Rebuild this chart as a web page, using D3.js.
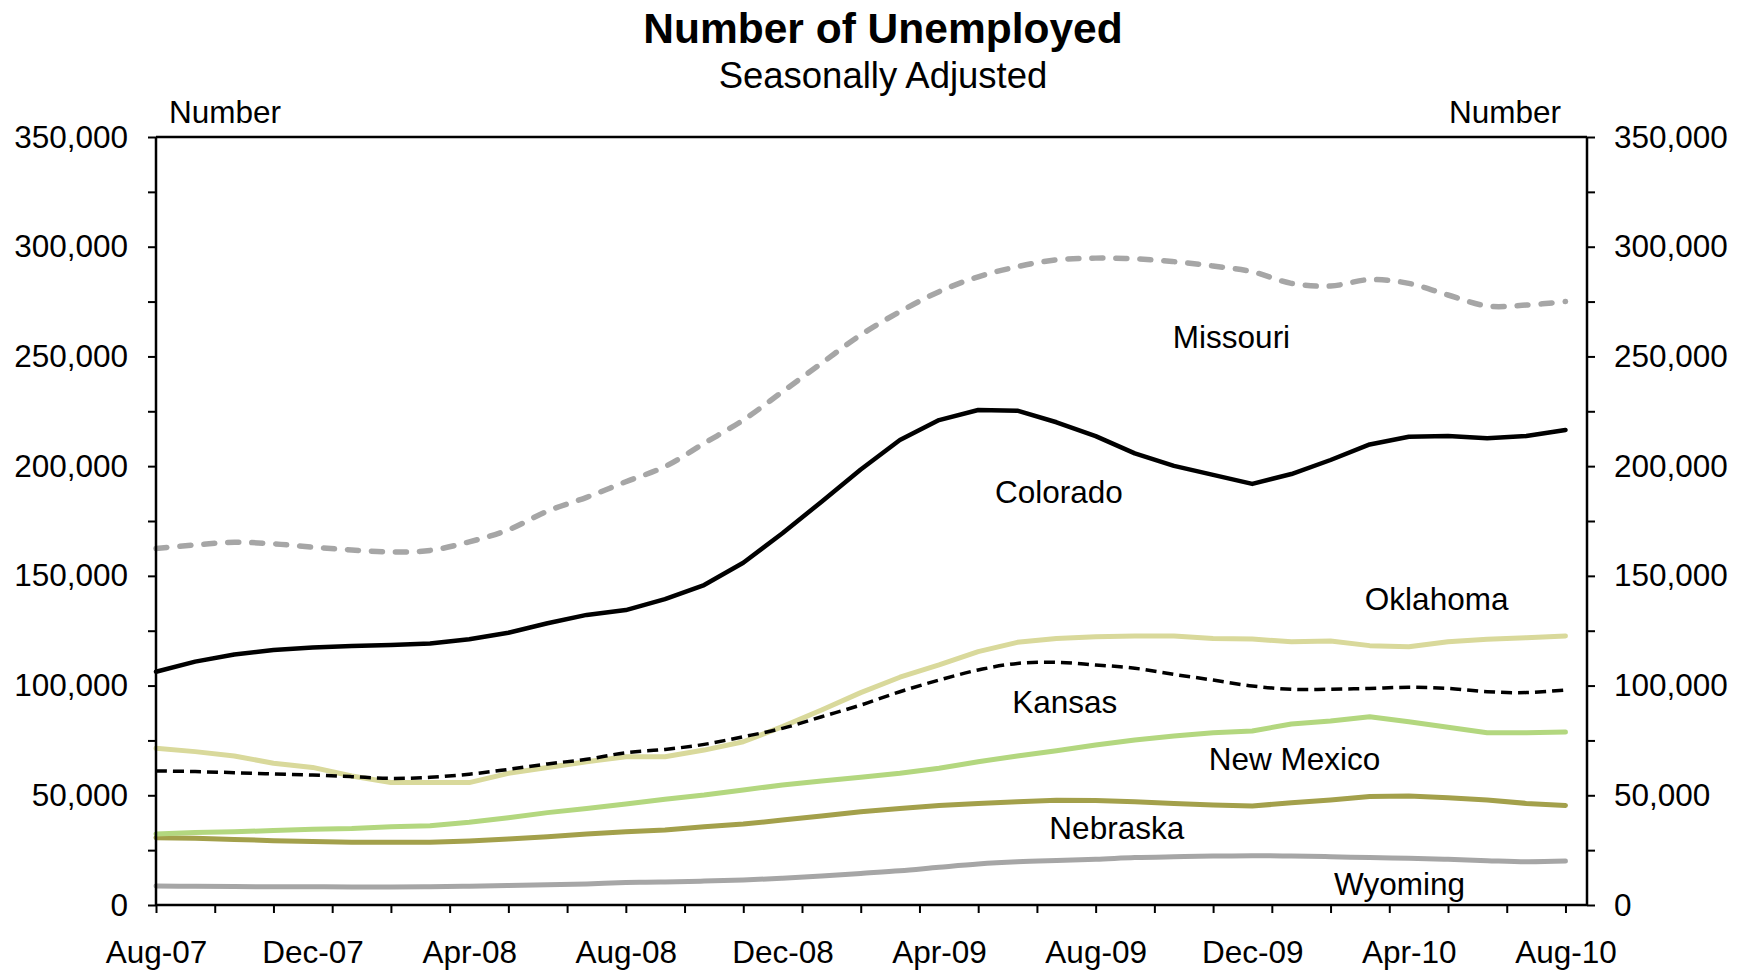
<!DOCTYPE html>
<html>
<head>
<meta charset="utf-8">
<title>Number of Unemployed</title>
<script src="https://cdn.jsdelivr.net/npm/d3@7"></script>
<style>
  body { margin: 0; background: #fff; }
  svg { display: block; }
  text { font-family: "Liberation Sans", Arial, Helvetica, sans-serif; fill: #000; }
</style>
</head>
<body>
<svg id="chart" width="1748" height="970"></svg>
<script>
// Monthly observations, Aug-07 through Aug-10
const months = [
  "Aug-07","Sep-07","Oct-07","Nov-07","Dec-07","Jan-08","Feb-08","Mar-08","Apr-08",
  "May-08","Jun-08","Jul-08","Aug-08","Sep-08","Oct-08","Nov-08","Dec-08","Jan-09",
  "Feb-09","Mar-09","Apr-09","May-09","Jun-09","Jul-09","Aug-09","Sep-09","Oct-09",
  "Nov-09","Dec-09","Jan-10","Feb-10","Mar-10","Apr-10","May-10","Jun-10","Jul-10","Aug-10"
];
const xTickLabels = ["Aug-07","Dec-07","Apr-08","Aug-08","Dec-08","Apr-09","Aug-09","Dec-09","Apr-10","Aug-10"];
const yTickValues = [0, 50000, 100000, 150000, 200000, 250000, 300000, 350000];

const missouri = [162500,164100,165300,164600,163100,161800,160900,161600,165500,171000,179500,185800,
  192900,199800,210400,221000,233900,246900,259800,270400,279500,286300,290900,294000,
  294800,294500,293200,291200,288600,283300,282100,285000,283300,278000,273000,273400,275000];
const colorado = [106300,110900,114200,116200,117300,118000,118500,119200,121100,124100,128400,132200,
  134400,139400,145800,156000,169400,183800,198500,211900,221000,225600,225300,220000,
  213700,205800,200100,196000,191900,196400,202800,209900,213400,213700,212700,213700,216500];
const oklahoma = [71400,69900,67900,64600,62700,58800,55800,55800,55800,60000,62700,65300,
  67600,67600,70600,74400,81300,88900,96800,103800,109400,115500,119700,121500,
  122300,122600,122600,121500,121200,120000,120300,118200,117700,120000,121100,121800,122600];
const kansas = [61100,60800,60300,59700,59200,58500,57700,58200,59600,61800,64300,66400,
  69400,70900,73200,76700,80500,85800,91100,97200,102500,107100,110100,110600,
  109400,107900,105100,102500,99800,98300,98300,98700,99200,98700,97200,96800,98000];
const newMexico = [32400,33000,33400,33900,34500,34900,35700,36100,37700,39800,42100,44000,
  46000,48200,50100,52400,54700,56500,58200,60000,62300,65300,67900,70300,
  72900,75200,77000,78500,79300,82500,83900,85800,83500,81000,78500,78500,78800];
const nebraska = [30700,30400,29900,29300,28900,28600,28600,28600,29200,30100,31100,32400,
  33400,34200,35700,36900,38700,40600,42500,44000,45300,46300,47100,47700,
  47600,47100,46300,45600,45100,46600,47900,49400,49700,48900,47900,46300,45400];
const wyoming = [8700,8500,8400,8300,8300,8200,8200,8300,8600,8900,9200,9600,
  10200,10500,10900,11400,12200,13200,14400,15600,17200,18700,19700,20300,
  20800,21600,22000,22300,22500,22300,22000,21600,21300,20800,20200,19700,20000];

// Drawing order and line styling for each state
const seriesStyles = [
  { name: "Wyoming",    values: wyoming,   color: "#a6a6a6", width: 5,   dash: null,    smooth: true  },
  { name: "Nebraska",   values: nebraska,  color: "#a3a04b", width: 5,   dash: null,    smooth: false },
  { name: "New Mexico", values: newMexico, color: "#b3d77f", width: 5,   dash: null,    smooth: false },
  { name: "Oklahoma",   values: oklahoma,  color: "#d9d99b", width: 5,   dash: null,    smooth: false },
  { name: "Kansas",     values: kansas,    color: "#000000", width: 3.5, dash: "11,6",  smooth: true  },
  { name: "Colorado",   values: colorado,  color: "#000000", width: 4.5, dash: null,    smooth: false },
  { name: "Missouri",   values: missouri,  color: "#a6a6a6", width: 5.5, dash: "11,13", smooth: true  }
];

// Series names placed in data space (month index, value)
const stateLabels = [
  { name: "Missouri",   m: 27.47, v: 253800 },
  { name: "Colorado",   m: 23.06, v: 183200 },
  { name: "Oklahoma",   m: 32.71, v: 134400 },
  { name: "Kansas",     m: 23.21, v: 87500  },
  { name: "New Mexico", m: 29.08, v: 61500  },
  { name: "Nebraska",   m: 24.54, v: 30100  },
  { name: "Wyoming",    m: 31.76, v: 4600   }
];

const svg = d3.select("#chart");
const plot = { left: 156, right: 1587, top: 137, bottom: 905 };

const x = d3.scaleLinear().domain([0, 36.55]).range([plot.left, plot.right]);
const y = d3.scaleLinear().domain([0, 350000]).range([plot.bottom, plot.top]);
const fmt = d3.format(",");
const axisFont = 31.5;

svg.append("rect").attr("width", 1748).attr("height", 970).attr("fill", "#fff");

// Title block
svg.append("text").attr("x", 883).attr("y", 43).attr("text-anchor", "middle")
  .attr("font-size", 42.5).attr("font-weight", "bold").text("Number of Unemployed");
svg.append("text").attr("x", 883).attr("y", 88).attr("text-anchor", "middle")
  .attr("font-size", 36.5).text("Seasonally Adjusted");
svg.append("text").attr("x", 169).attr("y", 123).attr("font-size", axisFont).text("Number");
svg.append("text").attr("x", 1561).attr("y", 123).attr("text-anchor", "end")
  .attr("font-size", axisFont).text("Number");

function styleAxis(g) {
  g.select(".domain").remove();
  g.selectAll(".tick line").attr("stroke", "#000").attr("stroke-width", 2);
  g.selectAll(".tick text").attr("font-size", axisFont)
    .attr("font-family", "'Liberation Sans', Arial, Helvetica, sans-serif").attr("fill", "#000");
}

const yMinorTicks = d3.range(0, 350001, 25000);
const yLabel = d => (yTickValues.includes(d) ? fmt(d) : "");

svg.append("g").attr("transform", `translate(${plot.left},0)`)
  .call(d3.axisLeft(y).tickValues(yMinorTicks).tickSize(8).tickPadding(20).tickFormat(yLabel))
  .call(styleAxis);

svg.append("g").attr("transform", `translate(${plot.right},0)`)
  .call(d3.axisRight(y).tickValues(yMinorTicks).tickSize(8).tickPadding(19).tickFormat(yLabel))
  .call(styleAxis);

// Bottom tick marks every 1.5 months, labels every 4 months
svg.append("g").attr("transform", `translate(0,${plot.bottom})`)
  .call(d3.axisBottom(x).tickValues(d3.range(0, 36.01, 1.5)).tickSize(8).tickFormat(""))
  .call(styleAxis);

svg.append("g").attr("transform", `translate(0,${plot.bottom})`)
  .call(d3.axisBottom(x).tickValues(xTickLabels.map(l => months.indexOf(l)))
    .tickSize(0).tickPadding(36).tickFormat(i => months[i]))
  .call(styleAxis);

// Series lines
const linearLine = d3.line().x((d, i) => x(i)).y(d => y(d));
const smoothLine = d3.line().x((d, i) => x(i)).y(d => y(d)).curve(d3.curveCatmullRom.alpha(0.5));

svg.append("g").selectAll("path").data(seriesStyles).join("path")
  .attr("d", s => (s.smooth ? smoothLine : linearLine)(s.values))
  .attr("fill", "none")
  .attr("stroke", s => s.color)
  .attr("stroke-width", s => s.width)
  .attr("stroke-dasharray", s => s.dash)
  .attr("stroke-linejoin", "round")
  .attr("stroke-linecap", s => (s.dash && s.color === "#000000") ? "butt" : "round");

// Plot frame
const frame = svg.append("g").attr("stroke", "#000").attr("stroke-width", 2.5);
frame.append("line").attr("x1", plot.left).attr("x2", plot.right).attr("y1", plot.top).attr("y2", plot.top);
frame.append("line").attr("x1", plot.left).attr("x2", plot.right).attr("y1", plot.bottom).attr("y2", plot.bottom);
frame.append("line").attr("x1", plot.left).attr("x2", plot.left).attr("y1", plot.top).attr("y2", plot.bottom);
frame.append("line").attr("x1", plot.right).attr("x2", plot.right).attr("y1", plot.top).attr("y2", plot.bottom);

// State names
svg.append("g").selectAll("text").data(stateLabels).join("text")
  .attr("x", d => x(d.m)).attr("y", d => y(d.v))
  .attr("text-anchor", "middle").attr("font-size", axisFont)
  .text(d => d.name);
</script>
</body>
</html>
